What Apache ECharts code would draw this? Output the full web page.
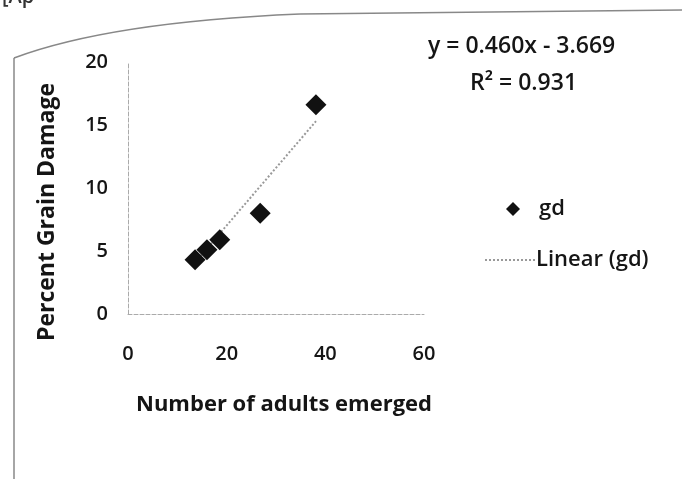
<!DOCTYPE html>
<html>
<head>
<meta charset="utf-8">
<script src="https://cdn.jsdelivr.net/npm/echarts@6/dist/echarts.min.js"></script>
<style>
html,body{margin:0;padding:0;background:#fff;}
#c{width:682px;height:479px;}
</style>
</head>
<body>
<div id="c"></div>
<script>
// Data
const adults = [13.6, 16.0, 18.6, 26.8, 38.1];
const grainDamage = [4.3, 5.1, 5.9, 8.0, 16.6];
const trendX = [13.6, 38.1];
const trendY = [4.1, 15.3];
const xTicks = [0, 20, 40, 60];
const yTicks = [0, 5, 10, 15, 20];
const equationText = 'y = 0.460x - 3.669';
const r2Text = 'R² = 0.931';

const FONT = 'Open Sans';
const INK = '#151515';
const chart = echarts.init(document.getElementById('c'));
chart.setOption({
  backgroundColor: '#fff',
  animation: false,
  grid: { left: 128, top: 62, width: 296, height: 252 },
  xAxis: {
    type: 'value', min: 0, max: 60, interval: 20,
    name: 'Number of adults emerged', nameLocation: 'middle', nameGap: 80,
    nameTextStyle: { fontFamily: FONT, fontSize: 22, fontWeight: 'bold', color: INK, padding: [0, 0, 0, 16] },
    axisLine: { show: true, lineStyle: { color: '#aaa', type: 'dashed', width: 1 } },
    axisTick: { show: false },
    splitLine: { show: false },
    axisLabel: { fontFamily: FONT, fontSize: 20, fontWeight: 600, color: INK, margin: 30,
      formatter: v => xTicks.includes(v) ? String(v) : '' }
  },
  yAxis: {
    type: 'value', min: 0, max: 20, interval: 5,
    name: 'Percent Grain Damage', nameLocation: 'middle', nameGap: 69,
    nameTextStyle: { fontFamily: FONT, fontSize: 23, fontWeight: 'bold', color: INK, padding: [0, 48, 0, 0] },
    axisLine: { show: true, lineStyle: { color: '#aaa', type: 'dashed', width: 1 } },
    axisTick: { show: false },
    splitLine: { show: false },
    axisLabel: { fontFamily: FONT, fontSize: 20, fontWeight: 600, color: INK, margin: 20,
      formatter: v => yTicks.includes(v) ? String(v) : '' }
  },
  legend: [
    { data: [{ name: 'gd', icon: 'diamond' }], left: 501, top: 193, itemWidth: 14, itemHeight: 14,
      textStyle: { fontFamily: FONT, fontSize: 22, fontWeight: 600, color: INK, padding: [0, 0, 0, 14] } },
    { data: ['Linear (gd)'], left: 479, top: 244, itemWidth: 50, itemHeight: 2,
      textStyle: { fontFamily: FONT, fontSize: 22, fontWeight: 600, color: INK, padding: [0, 0, 0, -4] } }
  ],
  series: [
    { name: 'gd', type: 'scatter', symbol: 'diamond', symbolSize: 21,
      itemStyle: { color: '#111', opacity: 1 },
      data: adults.map((x, i) => [x, grainDamage[i]]), z: 3 },
    { name: 'Linear (gd)', type: 'line', symbol: 'none',
      lineStyle: { color: '#999', width: 2, type: 'dotted' },
      itemStyle: { color: '#999' },
      data: trendX.map((x, i) => [x, trendY[i]]), z: 2 }
  ],
  graphic: [
    { type: 'line', shape: { x1: 14, y1: 479, x2: 14, y2: 58 },
      style: { stroke: '#888', lineWidth: 1.5 } },
    { type: 'bezierCurve', shape: { x1: 14, y1: 58, cpx1: 110, cpy1: 22, x2: 300, y2: 14 },
      style: { stroke: '#888', lineWidth: 1.5, fill: null } },
    { type: 'line', shape: { x1: 300, y1: 14, x2: 682, y2: 10 },
      style: { stroke: '#888', lineWidth: 1.5 } },
    { type: 'text', left: 2, top: -13, style: { text: '[Ap', font: '600 20px "' + FONT + '"', fill: '#333' } },
    { type: 'text', left: 428, top: 35, style: { text: equationText, font: '600 23px "' + FONT + '"', fill: INK } },
    { type: 'text', left: 470, top: 72, style: { text: r2Text, font: '600 23px "' + FONT + '"', fill: INK } }
  ]
});
</script>
</body>
</html>
